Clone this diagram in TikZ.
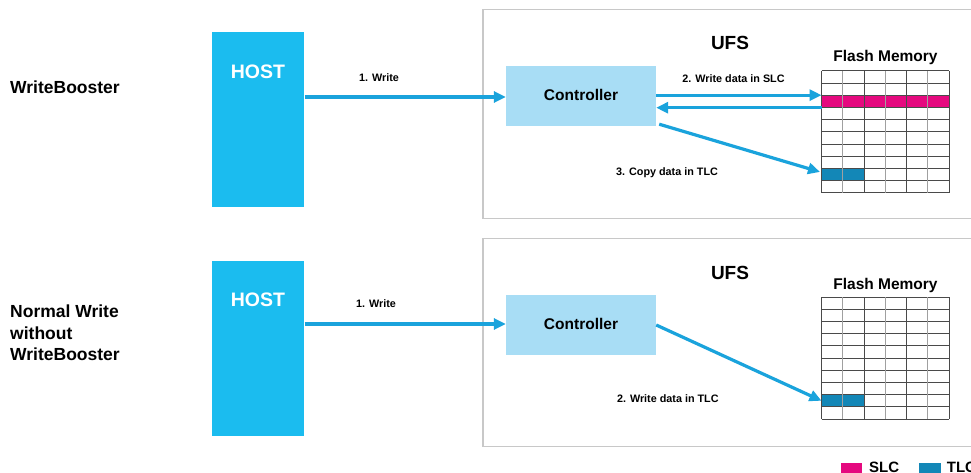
\documentclass[tikz,border=0pt]{standalone}
\usepackage{fontspec}
\setmainfont{Liberation Sans}
\usetikzlibrary{arrows.meta,calc}
\definecolor{hostc}{HTML}{1BBCEF}
\definecolor{ctrlc}{HTML}{A8DDF5}
\definecolor{arrc}{HTML}{1AA3DC}
\definecolor{slcc}{HTML}{E5097F}
\definecolor{tlcc}{HTML}{1387B7}
\definecolor{boxc}{HTML}{C8C8C8}
\definecolor{gridd}{HTML}{4A4A4A}
\definecolor{gridl}{HTML}{A0A0A0}
\tikzset{
  ufsbox/.style={draw=boxc, line width=1.4pt, fill=white, inner sep=0, minimum width=502pt, minimum height=208.5pt},
  hostbox/.style={fill=hostc, inner sep=0, minimum width=92.6pt, minimum height=175pt},
  ctrlbox/.style={fill=ctrlc, inner sep=0, minimum width=150pt, minimum height=60pt},
  hosttxt/.style={text=white, font=\fontsize{19.5}{22}\selectfont\bfseries, inner sep=0},
  ctrltxt/.style={font=\fontsize{15.5}{18}\selectfont\bfseries, inner sep=0},
  ufstxt/.style={font=\fontsize{19}{22}\selectfont\bfseries, inner sep=0},
  flashtxt/.style={font=\fontsize{15.5}{18}\selectfont\bfseries, inner sep=0},
  sidetxt/.style={font=\fontsize{17.5}{21.5}\selectfont\bfseries, inner sep=0, anchor=west, align=left},
  lbl/.style={font=\fontsize{10.8}{13}\selectfont\bfseries, inner sep=0},
  legtxt/.style={font=\fontsize{15}{18}\selectfont\bfseries, inner sep=0, anchor=base west},
  arr/.style={draw=arrc, line width=3.2pt, -{Triangle[length=12pt,width=11pt]}},
  hline/.style={draw=gridd, line width=1pt},
  vdark/.style={draw=gridd, line width=1pt},
  vlight/.style={draw=gridl, line width=1pt},
  cell/.style={inner sep=0, minimum height=12.17pt},
}
\begin{document}
\begin{tikzpicture}[x=1pt,y=-1pt]
\useasboundingbox (0,0) rectangle (971,473);
\clip (0,0) rectangle (971,473);
\fill[white] (0,0) rectangle (971,473);

% side labels
\node[sidetxt] (wb) at (10,87) {WriteBooster};
\node[sidetxt] (nw) at (10,333) {Normal Write\\without\\WriteBooster};

% UFS boxes
\node[ufsbox] (ufs1) at (734,114) {};
\node[ufsbox] (ufs2) at (734,342.5) {};
\node[ufstxt] (ufst1) at (730,43) {UFS};
\node[ufstxt] (ufst2) at (730,273) {UFS};

% HOST boxes
\node[hostbox] (host1) at (258,119.5) {};
\node[hostbox] (host2) at (258,348.5) {};
\node[hosttxt] (ht1) at (258,72) {HOST};
\node[hosttxt] (ht2) at (258,300) {HOST};

% Controllers
\node[ctrlbox] (ctrl1) at (581,96) {};
\node[ctrlbox] (ctrl2) at (581,325) {};
\node[ctrltxt] (ct1) at (581,95) {Controller};
\node[ctrltxt] (ct2) at (581,323.5) {Controller};

% Flash memory titles
\node[flashtxt] (ft1) at (885.5,57) {Flash Memory};
\node[flashtxt] (ft2) at (885.5,285) {Flash Memory};

% filled cells
\node[cell, fill=slcc, minimum width=127.3pt] (slc1) at (885.35,101.43) {};
\node[cell, fill=tlcc, minimum width=42.43pt] (tlc1) at (842.92,174.45) {};
\node[cell, fill=tlcc, minimum width=42.43pt] (tlc2) at (842.92,400.75) {};

% grids
\foreach \oy in {71,297.3}{
  \foreach \i in {0,...,10}
    \draw[hline] (821.7,\oy+\i*12.17) -- (949,\oy+\i*12.17);
  \foreach \j in {0,2,4,6}
    \draw[vdark] (821.7+\j*21.217,\oy) -- (821.7+\j*21.217,\oy+121.7);
  \foreach \j in {1,3,5}
    \draw[vlight] (821.7+\j*21.217,\oy) -- (821.7+\j*21.217,\oy+121.7);
}

% arrows top
\draw[arr] (host1.east |- 0,97) -- (ctrl1.west |- 0,97);
\draw[arr] (ctrl1.east |- slc1.north west) -- (slc1.north west);
\draw[arr] (slc1.south west) -- (ctrl1.east |- slc1.south west);
\draw[arr] ($(ctrl1.south east)+(3,-2)$) -- ($(tlc1.west)+(-1.5,-2.5)$);

% arrows bottom
\draw[arr] (host2.east |- 0,324) -- (ctrl2.west |- 0,324);
\draw[arr] (ctrl2.east) -- (tlc2.west);

% labels
\node[lbl] (l1) at (379,78) {1. Write};
\node[lbl] (l2) at (733.5,79) {2. Write data in SLC};
\node[lbl] (l3) at (667,172.7) {3. Copy data in TLC};
\node[lbl] (l4) at (376,304) {1. Write};
\node[lbl] (l5) at (667.8,398.3) {2. Write data in TLC};

% legend
\node[inner sep=0, fill=slcc, minimum width=21pt, minimum height=11pt] (legs) at (851.2,468) {};
\node[legtxt] (legst) at (869,472.6) {SLC};
\node[inner sep=0, fill=tlcc, minimum width=21.7pt, minimum height=11pt] (legt) at (929.8,468) {};
\node[legtxt] (legtt) at (946.7,472.6) {TLC};
\end{tikzpicture}
\end{document}
